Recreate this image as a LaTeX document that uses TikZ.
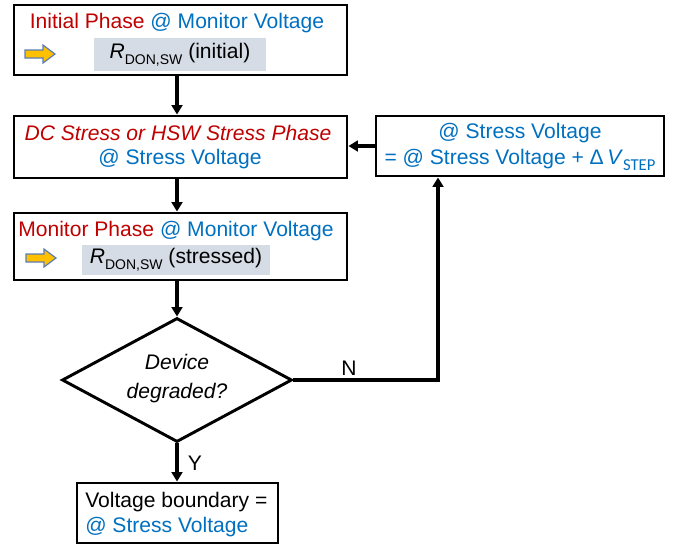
\documentclass[tikz,border=0pt]{standalone}
\usepackage{fontspec}
\setmainfont{Liberation Sans}
\newfontfamily\subfont{Carlito}
\usetikzlibrary{arrows.meta,shapes.geometric}
\definecolor{phred}{HTML}{C00000}
\definecolor{vblue}{HTML}{0070C0}
\definecolor{hlgrey}{HTML}{D6DCE5}
\definecolor{ptryel}{HTML}{FFC000}
\definecolor{ptrrim}{HTML}{5B7DB5}
\newcommand{\rdon}{\textit{R}\raisebox{-4.5pt}{\fontsize{10.5}{10.5}\selectfont DON,SW}}
\begin{document}
\begin{tikzpicture}[x=0.75pt,y=-0.75pt,
  font=\fontsize{15.8}{18}\selectfont,
  box/.style={draw=black,line width=2.2pt,fill=white,inner sep=0pt},
  hl/.style={fill=hlgrey,inner sep=0pt},
  txt/.style={inner sep=0pt,anchor=center},
  arr/.style={line width=2.3pt,-{Triangle[length=7pt,width=8pt]}},
  pointer/.style={fill=ptryel,draw=ptrrim,line width=0.9pt,line join=miter}]
\useasboundingbox (0,0) rectangle (679,547);

% boxes
\node[box,minimum width=249.75pt,minimum height=52.5pt] (init) at (180.5,40) {};
\node[box,minimum width=249.75pt,minimum height=46.5pt] (stress) at (180.5,147) {};
\node[box,minimum width=216pt,minimum height=45pt] (step) at (520,146) {};
\node[box,minimum width=249.75pt,minimum height=50.25pt] (mon) at (180.5,246.5) {};
\node[draw=black,line width=2.2pt,shape=diamond,inner sep=0pt,
      minimum width=172.5pt,minimum height=93pt] (dec) at (177,380) {};
\node[box,minimum width=150.75pt,minimum height=45pt] (bound) at (177.5,513) {};

% initial phase
\node[txt] (t1) at (177,23) {\textcolor{phred}{Initial Phase} \textcolor{vblue}{@ Monitor Voltage}};
\node[hl,minimum width=129pt,minimum height=24.75pt] (r1) at (180,54.5) {\rdon{} (initial)};
\draw[pointer] (25,50) -- (43,50) -- (43,45) -- (55,54) -- (43,63) -- (43,58) -- (25,58) -- cycle;

% stress phase
\node[txt] (t2) at (178,133) {\textcolor{phred}{\textit{DC Stress or HSW Stress Phase}}};
\node[txt] (t3) at (180,159) {\textcolor{vblue}{@ Stress Voltage}};

% voltage step
\node[txt] (t4) at (520,133) {\textcolor{vblue}{@ Stress Voltage}};
\node[txt] (t5) at (520,160) {\textcolor{vblue}{= @ Stress Voltage + Δ\,\textit{V}\raisebox{-4pt}{\subfont\fontsize{12.5}{12.5}\selectfont STEP}}};

% monitor phase
\node[txt] (t6) at (176,231) {\textcolor{phred}{Monitor Phase} \textcolor{vblue}{@ Monitor Voltage}};
\node[hl,minimum width=141pt,minimum height=22.5pt] (r2) at (176,260) {\rdon{} (stressed)};
\draw[pointer] (26,254) -- (44,254) -- (44,249) -- (56,258) -- (44,267) -- (44,262) -- (26,262) -- cycle;

% decision
\node[txt] (t7) at (177,362) {\textit{Device}};
\node[txt] (t8) at (177,393) {\textit{degraded?}};

% result
\node[txt,anchor=west] (t9) at (85,502) {Voltage boundary =};
\node[txt,anchor=west] (t10) at (85,527) {\textcolor{vblue}{@ Stress Voltage}};

% connectors
\coordinate (turn) at (438,380);
\draw[arr] (init.south -| dec.north) -- (stress.north -| dec.north);
\draw[arr] (stress.south -| dec.north) -- (mon.north -| dec.north);
\draw[arr] (mon.south -| dec.north) -- (dec.north);
\draw[arr] (step.west) -- (stress.east |- step.west);
\draw[arr] (dec.east) -- (turn) -- (turn |- step.south);
\draw[arr] (dec.south) -- (bound.north -| dec.south);
\node[txt] (lN) at (349,368) {N};
\node[txt] (lY) at (195,463) {Y};
\end{tikzpicture}
\end{document}
